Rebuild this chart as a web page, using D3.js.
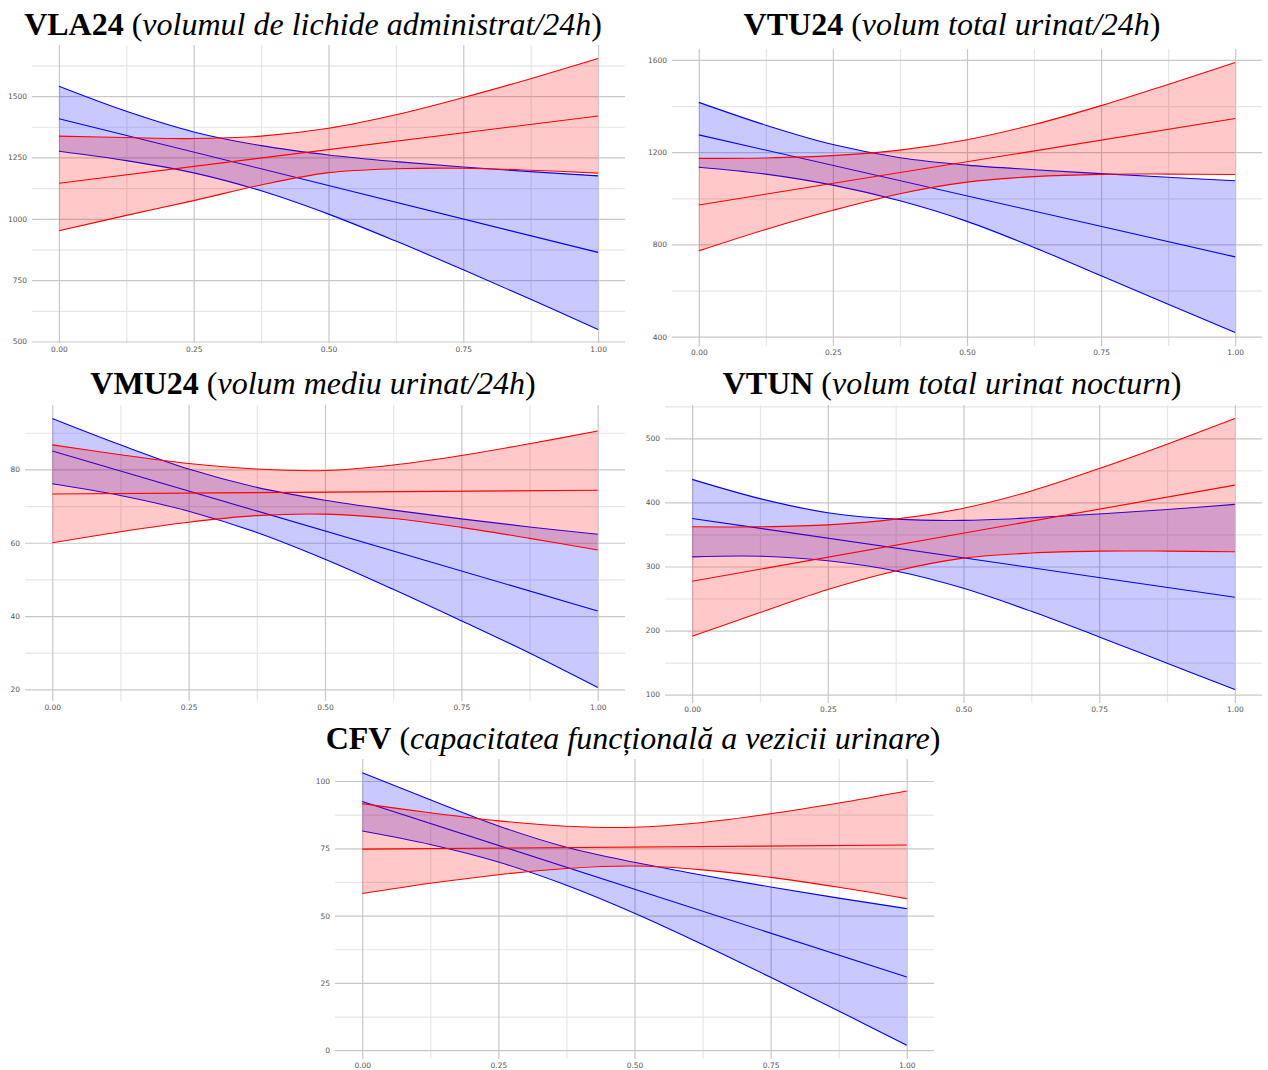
<!DOCTYPE html>
<html>
<head>
<meta charset="utf-8">
<script src="https://cdn.jsdelivr.net/npm/d3@7"></script>
<style>
body { margin: 0; background: #fff; }
</style>
</head>
<body>
<svg id="chart" width="1268" height="1070"></svg>
<script>
// sample points along x (0..1) for the bands, the middle lines are straight so only the ends
const xs = [0, 0.125, 0.25, 0.375, 0.5, 0.625, 0.75, 0.875, 1];
const xEnds = [0, 1];
const xTicks = [0, 0.25, 0.5, 0.75, 1];
const xTickLabels = ["0.00", "0.25", "0.50", "0.75", "1.00"];

// VLA24
const vla24Ticks = [500, 750, 1000, 1250, 1500];
const vla24BlueHigh = [1540, 1438, 1354, 1298, 1260, 1233, 1211, 1192, 1175];
const vla24BlueMid = [1408, 863];
const vla24BlueLow = [1275, 1237, 1187, 1114, 1019, 909, 792, 672, 549];
const vla24RedHigh = [1337, 1331, 1327, 1337, 1369, 1424, 1494, 1571, 1653];
const vla24RedMid = [1145, 1419];
const vla24RedLow = [951, 1014, 1074, 1138, 1188, 1204, 1206, 1198, 1186];

// VTU24
const vtu24Ticks = [400, 800, 1200, 1600];
const vtu24BlueHigh = [1416, 1317, 1233, 1176, 1144, 1124, 1107, 1091, 1076];
const vtu24BlueMid = [1275, 746];
const vtu24BlueLow = [1135, 1105, 1057, 989, 900, 787, 664, 541, 418];
const vtu24RedHigh = [1173, 1175, 1185, 1209, 1254, 1320, 1402, 1494, 1589];
const vtu24RedMid = [971, 1346];
const vtu24RedLow = [772, 865, 948, 1020, 1070, 1094, 1104, 1105, 1103];

// VMU24
const vmu24Ticks = [20, 40, 60, 80];
const vmu24BlueHigh = [93.9, 86.7, 80.1, 75.1, 71.6, 68.9, 66.5, 64.3, 62.3];
const vmu24BlueMid = [85.0, 41.4];
const vmu24BlueLow = [76.1, 72.9, 68.6, 62.8, 55.5, 47.3, 38.7, 29.9, 20.5];
const vmu24RedHigh = [86.7, 84.0, 81.6, 80.1, 79.7, 81.2, 83.8, 87.0, 90.5];
const vmu24RedMid = [73.3, 74.3];
const vmu24RedLow = [60.0, 63.0, 65.6, 67.4, 67.8, 66.6, 64.2, 61.2, 58.0];

// VTUN
const vtunTicks = [100, 200, 300, 400, 500];
const vtunBlueHigh = [436, 406, 384, 374, 372, 376, 382, 389, 397];
const vtunBlueMid = [375, 252];
const vtunBlueLow = [315, 316, 309, 293, 266, 230, 190, 149, 108];
const vtunRedHigh = [362, 362, 365, 374, 391, 418, 453, 491, 531];
const vtunRedMid = [277, 427];
const vtunRedLow = [191, 228, 264, 293, 313, 321, 324, 324, 323];

// CFV
const cfvTicks = [0, 25, 50, 75, 100];
const cfvBlueHigh = [103.1, 93.0, 83.3, 75.4, 69.8, 65.0, 60.6, 56.5, 52.6];
const cfvBlueMid = [92.4, 27.2];
const cfvBlueLow = [81.4, 76.4, 69.9, 61.3, 50.9, 39.3, 27.1, 14.6, 1.8];
const cfvRedHigh = [91.6, 88.2, 85.2, 83.2, 82.8, 84.6, 87.8, 91.8, 96.3];
const cfvRedMid = [74.7, 76.2];
const cfvRedLow = [58.2, 62.0, 65.2, 67.5, 68.4, 67.0, 64.2, 60.5, 56.3];

// titres : [gras, italique]
const titles = [
  ["VLA24", "volumul de lichide administrat/24h"],
  ["VTU24", "volum total urinat/24h"],
  ["VMU24", "volum mediu urinat/24h"],
  ["VTUN", "volum total urinat nocturn"],
  ["CFV", "capacitatea funcțională a vezicii urinare"]
];

const panels = [
  { t: titles[0], tx: 313, ty: 35, left: 32, right: 625, top: 45, bottom: 343, ticks: vla24Ticks,
    bHigh: vla24BlueHigh, bMid: vla24BlueMid, bLow: vla24BlueLow, rHigh: vla24RedHigh, rMid: vla24RedMid, rLow: vla24RedLow },
  { t: titles[1], tx: 952, ty: 35, left: 672, right: 1262, top: 49, bottom: 346, ticks: vtu24Ticks,
    bHigh: vtu24BlueHigh, bMid: vtu24BlueMid, bLow: vtu24BlueLow, rHigh: vtu24RedHigh, rMid: vtu24RedMid, rLow: vtu24RedLow },
  { t: titles[2], tx: 313, ty: 394, left: 25, right: 625, top: 405, bottom: 701, ticks: vmu24Ticks,
    bHigh: vmu24BlueHigh, bMid: vmu24BlueMid, bLow: vmu24BlueLow, rHigh: vmu24RedHigh, rMid: vmu24RedMid, rLow: vmu24RedLow },
  { t: titles[3], tx: 952, ty: 394, left: 665, right: 1262, top: 405, bottom: 703, ticks: vtunTicks,
    bHigh: vtunBlueHigh, bMid: vtunBlueMid, bLow: vtunBlueLow, rHigh: vtunRedHigh, rMid: vtunRedMid, rLow: vtunRedLow },
  { t: titles[4], tx: 633, ty: 749, left: 335, right: 934, top: 759, bottom: 1059, ticks: cfvTicks,
    bHigh: cfvBlueHigh, bMid: cfvBlueMid, bLow: cfvBlueLow, rHigh: cfvRedHigh, rMid: cfvRedMid, rLow: cfvRedLow }
];

const svg = d3.select("#chart");

function drawPanel(p) {
  const g = svg.append("g");

  const x = d3.scaleLinear().domain([-0.05, 1.05]).range([p.left, p.right]);
  // expansion 5% comme ggplot
  const all = [].concat(p.bHigh, p.bMid, p.bLow, p.rHigh, p.rMid, p.rLow);
  const lo = d3.min(all), hi = d3.max(all), pad = (hi - lo) * 0.05;
  const y = d3.scaleLinear().domain([lo - pad, hi + pad]).range([p.bottom, p.top]);

  // grille mineure
  const step = p.ticks[1] - p.ticks[0];
  const yMinor = [p.ticks[0] - step / 2].concat(p.ticks.map(d => d + step / 2))
    .filter(d => d > y.domain()[0] && d < y.domain()[1]);
  const xMinor = [0.125, 0.375, 0.625, 0.875];

  g.append("g")
    .attr("transform", `translate(${p.left},0)`)
    .call(d3.axisLeft(y).tickValues(yMinor).tickSize(-(p.right - p.left)).tickFormat(""))
    .call(a => a.selectAll("line").attr("stroke", "#e6e6e6").attr("stroke-width", 1.2))
    .call(a => a.select(".domain").remove());
  g.append("g")
    .attr("transform", `translate(0,${p.bottom})`)
    .call(d3.axisBottom(x).tickValues(xMinor).tickSize(-(p.bottom - p.top)).tickFormat(""))
    .call(a => a.selectAll("line").attr("stroke", "#e6e6e6").attr("stroke-width", 1.2))
    .call(a => a.select(".domain").remove());

  // grille majeure + labels
  const yAxis = g.append("g")
    .attr("transform", `translate(${p.left},0)`)
    .call(d3.axisLeft(y).tickValues(p.ticks).tickSize(-(p.right - p.left)).tickPadding(5)
      .tickFormat(d3.format("d")))
    .call(a => a.select(".domain").remove());
  yAxis.selectAll("line").attr("stroke", "#c8c8c8").attr("stroke-width", 1.2);
  yAxis.selectAll("text").attr("fill", "#555").attr("font-size", 7.5).attr("font-family", "DejaVu Sans");

  const xAxis = g.append("g")
    .attr("transform", `translate(0,${p.bottom})`)
    .call(d3.axisBottom(x).tickValues(xTicks).tickSize(-(p.bottom - p.top)).tickPadding(4)
      .tickFormat((d, i) => xTickLabels[i]))
    .call(a => a.select(".domain").remove());
  xAxis.selectAll("line").attr("stroke", "#c8c8c8").attr("stroke-width", 1.2);
  xAxis.selectAll("text").attr("fill", "#555").attr("font-size", 7.5).attr("font-family", "DejaVu Sans");

  const area = d3.area().x((d, i) => x(xs[i])).y0(d => d[0]).y1(d => d[1]).curve(d3.curveCatmullRom);
  const line = d3.line().x(d => x(d[0])).y(d => y(d[1])).curve(d3.curveCatmullRom);

  const series = [
    { high: p.bHigh, mid: p.bMid, low: p.bLow, col: "#0000ff", fill: "rgba(0,0,255,0.21)" },
    { high: p.rHigh, mid: p.rMid, low: p.rLow, col: "#ff0000", fill: "rgba(255,0,0,0.21)" }
  ];
  series.forEach(s => {
    const band = xs.map((d, i) => [y(s.low[i]), y(s.high[i])]);
    g.append("path").attr("d", area(band)).attr("fill", s.fill);
    [s.high, s.low].forEach(v => {
      g.append("path").attr("d", line(xs.map((d, i) => [d, v[i]])))
        .attr("fill", "none").attr("stroke", s.col).attr("stroke-width", 1.1);
    });
    g.append("path").attr("d", line(xEnds.map((d, i) => [d, s.mid[i]])))
      .attr("fill", "none").attr("stroke", s.col).attr("stroke-width", 1.1);
  });

  // titre
  const tt = svg.append("text")
    .attr("x", p.tx).attr("y", p.ty)
    .attr("text-anchor", "middle")
    .attr("font-family", "Liberation Serif, serif")
    .attr("font-size", 32)
    .attr("fill", "#000");
  tt.append("tspan").attr("font-weight", "bold").text(p.t[0]);
  tt.append("tspan").text(" (");
  tt.append("tspan").attr("font-style", "italic").text(p.t[1]);
  tt.append("tspan").text(")");
}

panels.forEach(drawPanel);
</script>
</body>
</html>
